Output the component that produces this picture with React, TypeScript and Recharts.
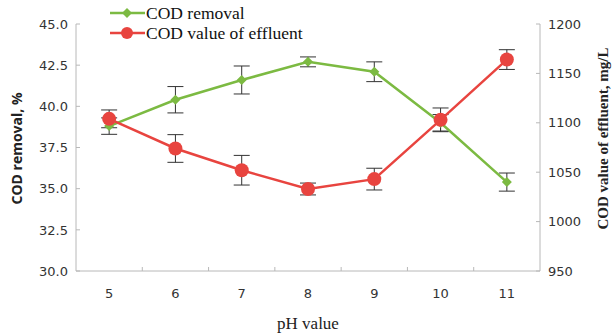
import { ComposedChart, Line, XAxis, YAxis, ErrorBar, Legend } from 'recharts';

const pH = [5, 6, 7, 8, 9, 10, 11];
const codRemoval = [38.8, 40.4, 41.6, 42.7, 42.1, 39.0, 35.4];
const removalErr = [0.5, 0.8, 0.85, 0.3, 0.6, 0.5, 0.55];
const codEffluent = [1104, 1074, 1052, 1033, 1043, 1103, 1164];
const effluentErr = [9, 14, 15, 6, 11, 12, 10];
const removalTicks = [30, 32.5, 35, 37.5, 40, 42.5, 45];
const effluentTicks = [950, 1000, 1050, 1100, 1150, 1200];

const GREEN = '#7cba42';
const RED = '#e8443f';
const AXIS = '#b8b8b8';
const TICK_FONT = "'DejaVu Sans', sans-serif";
const SERIF = "'Liberation Serif', 'Times New Roman', serif";

const data = pH.map((p, i) => ({
    pH: p,
    removal: codRemoval[i],
    removalErr: removalErr[i],
    effluent: codEffluent[i],
    effluentErr: effluentErr[i],
}));

// labels on whole pH values, small inward ticks between categories
const xTicks = pH.flatMap((p, i) => (i < pH.length - 1 ? [p, p + 0.5] : [p]));

const XTick = ({ x, y, payload }: any) => {
    if (Number.isInteger(payload.value)) {
        return (
            <text x={x} y={y + 27} textAnchor="middle" fontSize={13} fontFamily={TICK_FONT} fill="#333">
                {payload.value}
            </text>
        );
    }
    return <line x1={x} x2={x} y1={y} y2={y - 4} stroke={AXIS} />;
};

const LeftTick = ({ x, y, payload }: any) => (
    <g>
        <line x1={x} x2={x + 4} y1={y} y2={y} stroke={AXIS} />
        <text x={x - 8} y={y} dy="0.36em" textAnchor="end" fontSize={13} fontFamily={TICK_FONT} fill="#333">
            {payload.value.toFixed(1)}
        </text>
    </g>
);

const RightTick = ({ x, y, payload }: any) => (
    <g>
        <line x1={x} x2={x - 4} y1={y} y2={y} stroke={AXIS} />
        <text x={x + 8} y={y} dy="0.36em" textAnchor="start" fontSize={13} fontFamily={TICK_FONT} fill="#333">
            {payload.value}
        </text>
    </g>
);

const Diamond = ({ cx, cy, index }: any) => (
    <polygon key={index} points={`${cx},${cy - 5} ${cx + 5},${cy} ${cx},${cy + 5} ${cx - 5},${cy}`} fill={GREEN} />
);

const LeftTitle = ({ viewBox }: any) => {
    const cx = viewBox.x + 16;
    const cy = viewBox.y + viewBox.height / 2 + 1;
    return (
        <text x={cx} y={cy} transform={`rotate(-90 ${cx} ${cy})`} textAnchor="middle" dominantBaseline="central"
            fontSize={14} fontWeight="bold" fontFamily="'Open Sans', sans-serif" fill="#222">
            COD removal,  %
        </text>
    );
};

const RightTitle = ({ viewBox }: any) => {
    const cx = viewBox.x + viewBox.width - 10;
    const cy = viewBox.y + viewBox.height / 2 - 9;
    return (
        <text x={cx} y={cy} transform={`rotate(-90 ${cx} ${cy})`} textAnchor="middle" dominantBaseline="central"
            fontSize={15} fontWeight="bold" fontFamily={SERIF} fill="#222">
            COD value of effluent, mg/L
        </text>
    );
};

const BottomTitle = ({ viewBox }: any) => (
    <text x={viewBox.x + viewBox.width / 2} y={viewBox.y + 58} textAnchor="middle" fontSize={17} fontFamily={SERIF} fill="#222">
        pH value
    </text>
);

const renderLegend = () => (
    <div style={{ fontFamily: SERIF, fontSize: 17.5, color: '#111', lineHeight: '20px' }}>
        <div style={{ display: 'flex', alignItems: 'center' }}>
            <svg width={37} height={20}>
                <line x1={1} x2={36} y1={10} y2={10} stroke={GREEN} strokeWidth={2.5} />
                <polygon points="18,5 23,10 18,15 13,10" fill={GREEN} />
            </svg>
            <span>COD removal</span>
        </div>
        <div style={{ display: 'flex', alignItems: 'center' }}>
            <svg width={37} height={20}>
                <line x1={1} x2={36} y1={10} y2={10} stroke={RED} strokeWidth={2.5} />
                <circle cx={18} cy={10} r={6} fill={RED} />
            </svg>
            <span>COD value of effluent</span>
        </div>
    </div>
);

export default function App() {
    return (
        <div style={{ position: 'absolute', left: 0, top: 0, background: '#fff' }}>
            <ComposedChart width={613} height={335} data={data} margin={{ top: 24, right: 0, bottom: 0, left: 0 }}>
                <XAxis dataKey="pH" type="number" domain={[4.5, 11.5]} ticks={xTicks} interval={0}
                    stroke={AXIS} tickLine={false} tickSize={0} tickMargin={0} height={64}
                    tick={<XTick />} label={<BottomTitle />} />
                <YAxis yAxisId="left" domain={[30, 45]} ticks={removalTicks} interval={0} width={76}
                    stroke={AXIS} tickLine={false} tickSize={0} tickMargin={0}
                    tick={<LeftTick />} label={<LeftTitle />} />
                <YAxis yAxisId="right" orientation="right" domain={[950, 1200]} ticks={effluentTicks} interval={0} width={73}
                    stroke={AXIS} tickLine={false} tickSize={0} tickMargin={0}
                    tick={<RightTick />} label={<RightTitle />} />
                <Legend layout="vertical" align="center" verticalAlign="middle" content={renderLegend}
                    wrapperStyle={{ top: 3, left: 109, width: 'auto', height: 'auto' }} />
                <Line yAxisId="left" dataKey="removal" stroke={GREEN} strokeWidth={2.5} dot={<Diamond />}
                    activeDot={false} isAnimationActive={false}>
                    <ErrorBar dataKey="removalErr" direction="y" width={8} stroke="#333" strokeWidth={1} />
                </Line>
                <Line yAxisId="right" dataKey="effluent" stroke={RED} strokeWidth={2.5}
                    dot={{ r: 7, fill: RED, stroke: RED, strokeWidth: 0 }} activeDot={false} isAnimationActive={false}>
                    <ErrorBar dataKey="effluentErr" direction="y" width={8} stroke="#333" strokeWidth={1} />
                </Line>
            </ComposedChart>
        </div>
    );
}
